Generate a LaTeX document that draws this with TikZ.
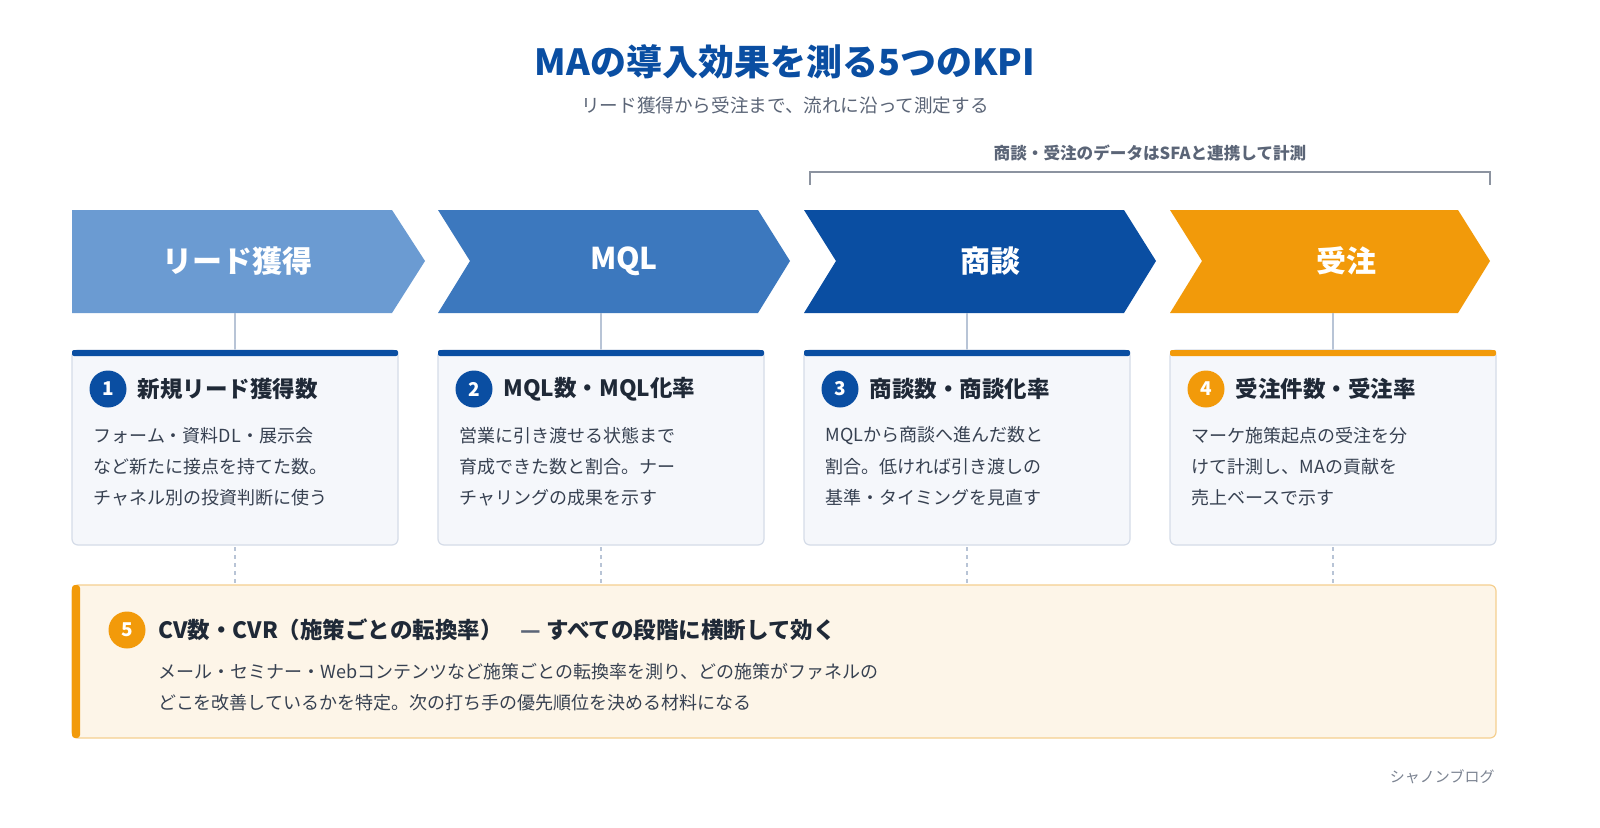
\documentclass[tikz,border=0pt]{standalone}
\usepackage{fontspec}
\setmainfont{Noto Sans CJK JP}
\definecolor{c1}{HTML}{6B9BD2}\definecolor{c2}{HTML}{3C78BE}
\definecolor{c3}{HTML}{0A4EA2}\definecolor{c4}{HTML}{F29A0A}
\definecolor{cardb}{HTML}{D5DCE8}\definecolor{cardf}{HTML}{F5F7FB}
\definecolor{ink}{HTML}{1F2937}\definecolor{body}{HTML}{374151}
\definecolor{linec}{HTML}{B8C4D6}\definecolor{gray1}{HTML}{5B6577}
\definecolor{ofill}{HTML}{FDF5E8}\definecolor{oborder}{HTML}{F5CF8F}
\begin{document}
\begin{tikzpicture}[x=1pt,y=-1pt,
 chev/.style={text=white,font=\bfseries\fontsize{30}{34}\selectfont},
 card/.style={draw=cardb,fill=cardf,rounded corners=6pt,line width=1.2pt},
 num/.style={circle,minimum size=37pt,inner sep=0pt,text=white,font=\bfseries\fontsize{19}{21}\selectfont},
 ctitle/.style={anchor=west,text=ink,font=\bfseries\fontsize{22.5}{26}\selectfont},
 body/.style={anchor=west,text=body,font=\fontsize{18}{22}\selectfont},
 conn/.style={draw=linec,line width=1.5pt}]
\fill[white] (0,0) rectangle (1600,827);
\node[text=c3,font=\bfseries\fontsize{36}{42}\selectfont] (title) at (785,62) {MAの導入効果を測る5つのKPI};
\node[text=gray1,font=\fontsize{18.6}{22}\selectfont] (sub) at (785,105) {リード獲得から受注まで、流れに沿って測定する};
\node[text=gray1,font=\bfseries\fontsize{16.6}{19}\selectfont] (br) at (1150,153) {商談・受注のデータはSFAと連携して計測};
\draw[draw=gray1!70,line width=1.5pt] (810,185) -- (810,172) -- (1490,172) -- (1490,185);
\fill[c1] (72,210) -- (392,210) -- (425,261) -- (392,313) -- (72,313) -- cycle;
\fill[c2] (438,210) -- (758,210) -- (790,261) -- (758,313) -- (438,313) -- (470,261) -- cycle;
\fill[c3] (804,210) -- (1124,210) -- (1156,261) -- (1124,313) -- (804,313) -- (836,261) -- cycle;
\fill[c4] (1170,210) -- (1458,210) -- (1490,261) -- (1458,313) -- (1170,313) -- (1202,261) -- cycle;
\node[chev] (s1) at (237,261) {リード獲得};
\node[chev] (s2) at (624,261) {MQL};
\node[chev] (s3) at (990,261) {商談};
\node[chev] (s4) at (1346,261) {受注};
\foreach \x in {235,601,967,1333}{
 \coordinate (a\x) at (\x,313); \coordinate (b\x) at (\x,350);
 \draw[conn] (a\x) -- (b\x);
 \coordinate (d\x) at (\x,547); \coordinate (e\x) at (\x,585);
 \draw[conn,dash pattern=on 4pt off 4pt] (d\x) -- (e\x);}
\foreach \x/\c in {72/c3,438/c3,804/c3,1170/c4}{
 \draw[card] (\x,350) rectangle ++(326,195);
 \fill[\c,rounded corners=2pt] (\x,350) rectangle ++(326,6);}
\node[num,fill=c3] (n1) at (108,389) {1}; \node[ctitle] (t1) at (134,389) {新規リード獲得数};
\node[num,fill=c3] (n2) at (474,389) {2}; \node[ctitle] (t2) at (500,389) {MQL数・MQL化率};
\node[num,fill=c3] (n3) at (840,389) {3}; \node[ctitle] (t3) at (866,389) {商談数・商談化率};
\node[num,fill=c4] (n4) at (1206,389) {4}; \node[ctitle] (t4) at (1232,389) {受注件数・受注率};
\node[body] (b1a) at (90,436) {フォーム・資料DL・展示会};
\node[body] (b1b) at (90,467) {など新たに接点を持てた数。};
\node[body] (b1c) at (90,498) {チャネル別の投資判断に使う};
\node[body] (b2a) at (456,436) {営業に引き渡せる状態まで};
\node[body] (b2b) at (456,467) {育成できた数と割合。ナー};
\node[body] (b2c) at (456,498) {チャリングの成果を示す};
\node[body] (b3a) at (822,436) {MQLから商談へ進んだ数と};
\node[body] (b3b) at (822,467) {割合。低ければ引き渡しの};
\node[body] (b3c) at (822,498) {基準・タイミングを見直す};
\node[body] (b4a) at (1188,436) {マーケ施策起点の受注を分};
\node[body] (b4b) at (1188,467) {けて計測し、MAの貢献を};
\node[body] (b4c) at (1188,498) {売上ベースで示す};
\draw[draw=oborder,fill=ofill,rounded corners=6pt,line width=1.2pt] (72,585) rectangle (1496,738);
\fill[c4,rounded corners=3pt] (72,585) rectangle (80,738);
\node[num,fill=c4] (n5) at (127,630) {5};
\node[ctitle] (t5) at (155,630) {CV数・CVR（施策ごとの転換率）\hspace{0.8em}{\color{gray1}—} すべての段階に横断して効く};
\node[body] (b5a) at (155,672) {メール・セミナー・Webコンテンツなど施策ごとの転換率を測り、どの施策がファネルの};
\node[body] (b5b) at (155,703) {どこを改善しているかを特定。次の打ち手の優先順位を決める材料になる};
\node[anchor=east,text=gray1!80,font=\fontsize{15}{17}\selectfont] (foot) at (1498,777) {シャノンブログ};
\pgfresetboundingbox
\path[use as bounding box] (0,0) rectangle (1600,827);
\end{tikzpicture}
\end{document}
